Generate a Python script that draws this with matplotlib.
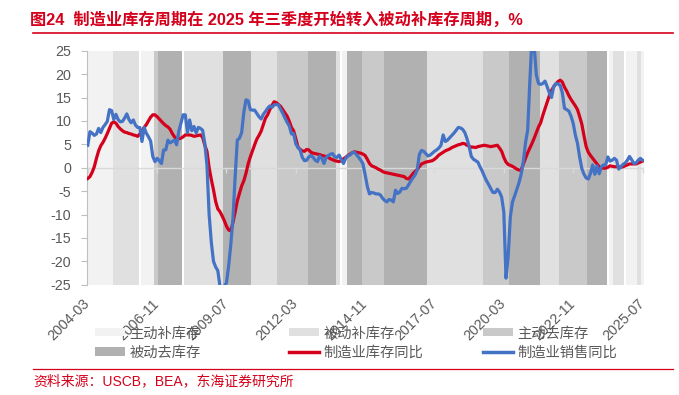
import numpy as np
import pandas as pd
import matplotlib
matplotlib.use("Agg")
import matplotlib.pyplot as plt
from matplotlib.patches import Patch
from matplotlib.lines import Line2D

plt.rcParams['font.family'] = ['Liberation Sans', 'Noto Sans CJK SC', 'DejaVu Sans']
plt.rcParams['axes.unicode_minus'] = False

# ---------------- data ----------------
start_month = '2004-03'
n_months = 257

inventory_yoy = [
    -2.3, -1.9, -1.0, 0.2, 2.0, 3.6, 4.7, 5.4, 6.3, 7.3,
    8.4, 9.5, 9.8, 9.5, 8.8, 8.3, 7.9, 7.6, 7.5, 7.3,
    7.2, 7.0, 6.9, 6.7, 7.2, 7.9, 8.6, 9.2, 10.0, 10.8,
    11.3, 11.3, 10.9, 10.4, 9.9, 9.4, 9.0, 8.7, 8.2, 7.3,
    6.6, 6.2, 6.2, 6.3, 6.6, 7.0, 7.0, 7.0, 6.9, 6.7,
    6.8, 6.9, 7.0, 6.5, 4.8, 3.5, 0.0, -2.5, -4.7, -7.2,
    -8.8, -9.4, -10.3, -11.3, -12.5, -13.3, -13.5, -11.7, -9.5, -7.1,
    -5.5, -3.9, -2.8, -1.2, 0.8, 2.3, 3.6, 4.9, 6.1, 6.9,
    7.8, 9.2, 10.6, 11.3, 12.4, 13.3, 14.1, 13.9, 13.5, 13.1,
    12.4, 11.7, 11.0, 9.9, 8.6, 7.9, 6.2, 4.4, 3.9, 3.6,
    3.5, 3.9, 3.8, 3.3, 3.1, 3.0, 2.9, 2.8, 2.6, 2.5,
    2.4, 2.2, 1.9, 1.7, 1.5, 1.4, 1.3, 1.5, 1.9, 2.2,
    2.6, 2.9, 3.2, 3.4, 3.3, 3.2, 3.1, 2.9, 2.6, 1.8,
    0.9, 0.4, 0.2, 0.0, -0.3, -0.5, -0.8, -1.0, -1.1, -1.2,
    -1.3, -1.4, -1.5, -1.6, -1.7, -1.8, -1.9, -2.3, -2.4, -1.9,
    -1.3, -0.8, -0.4, 0.2, 0.8, 1.0, 1.2, 1.3, 1.4, 1.5,
    1.8, 2.2, 2.7, 3.0, 3.3, 3.6, 3.8, 4.0, 4.3, 4.5,
    4.7, 4.9, 5.0, 5.2, 5.1, 4.8, 4.6, 4.4, 4.4, 4.3,
    4.5, 4.6, 4.7, 4.8, 4.7, 4.6, 4.5, 4.6, 4.7, 4.8,
    4.2, 3.5, 2.2, 1.2, 0.7, 0.5, 0.3, 0.0, -0.3, -0.5,
    -0.5, 0.8, 2.0, 3.2, 4.2, 5.2, 6.3, 7.5, 8.7, 9.6,
    11.2, 12.6, 14.0, 15.4, 16.5, 17.3, 17.9, 18.4, 18.7, 18.3,
    17.2, 16.4, 15.4, 14.6, 13.9, 13.2, 12.4, 10.9, 9.3, 6.8,
    4.5, 3.3, 2.6, 2.0, 1.4, 0.8, 0.2, -0.1, -0.1, -0.1,
    0.1, 0.4, 0.3, 0.2, 0.2, 0.2, 0.1, 0.2, 0.4, 0.6,
    0.8, 0.8, 0.8, 0.8, 1.0, 1.2, 1.4,
]

sales_yoy = [
    4.8, 7.7, 7.4, 6.9, 7.2, 8.4, 7.5, 8.6, 9.2, 9.9,
    12.4, 12.2, 10.3, 11.4, 10.3, 9.8, 9.9, 10.6, 11.5, 10.3,
    9.6, 10.2, 9.1, 8.6, 8.6, 5.6, 8.6, 7.4, 6.6, 5.7,
    2.4, 1.3, 2.0, 1.5, 0.9, 3.8, 3.8, 5.9, 5.3, 5.6,
    5.9, 4.9, 7.8, 9.5, 11.3, 11.3, 7.5, 10.2, 7.9, 8.8,
    7.4, 8.6, 8.4, 8.0, 5.2, 0.5, -10.0, -15.9, -20.0, -21.2,
    -22.0, -25.3, -25.6, -25.3, -24.6, -21.0, -16.4, -10.8, -2.0, 5.9,
    6.3, 7.5, 11.8, 14.5, 14.3, 12.4, 12.3, 12.3, 11.6, 10.9,
    10.4, 11.4, 12.0, 12.7, 13.2, 12.9, 13.4, 13.5, 13.4, 12.5,
    11.6, 10.6, 9.7, 8.9, 7.2, 7.3, 5.1, 4.3, 3.8, 2.2,
    1.5, 1.6, 2.3, 2.6, 2.2, 1.6, 1.3, 2.5, 2.0, 0.9,
    2.2, 2.6, 2.9, 3.0, 2.3, 2.2, 2.7, 1.7, 0.9, 2.0,
    2.5, 2.7, 3.2, 3.3, 2.8, 2.2, 1.6, 0.8, -1.5, -4.0,
    -5.6, -5.3, -5.4, -5.6, -5.6, -5.8, -6.5, -7.0, -7.3, -6.8,
    -6.9, -7.3, -4.8, -5.5, -5.2, -4.4, -4.5, -4.4, -3.7, -2.9,
    -2.2, -1.6, -0.5, 2.8, 3.7, 3.5, 3.0, 2.5, 2.7, 3.1,
    3.5, 3.8, 4.2, 4.8, 7.0, 5.6, 5.9, 6.4, 6.9, 7.4,
    8.0, 8.6, 8.5, 8.2, 7.5, 6.2, 4.5, 2.4, 1.8, 1.5,
    1.2, 0.2, -0.7, -1.8, -2.8, -3.6, -4.5, -5.3, -5.3, -4.6,
    -5.2, -6.3, -9.5, -23.6, -19.0, -10.5, -7.3, -6.0, -4.6, -3.2,
    -1.4, 1.3, 5.3, 8.0, 18.5, 27.5, 26.0, 19.8, 18.0, 17.8,
    18.0, 18.5, 17.3, 16.0, 15.0, 17.3, 18.0, 17.9, 17.6, 16.0,
    12.7, 12.4, 12.1, 11.0, 9.5, 7.0, 5.2, 2.2, -0.2, -1.4,
    -2.2, -2.4, -1.2, 0.6, -1.4, 0.4, -1.3, 0.2, 0.6, 0.6,
    2.3, 1.4, 1.6, 2.0, 1.6, -0.3, 0.2, 0.7, 1.0, 1.6,
    2.4, 1.7, 0.9, 1.0, 1.6, 2.0, 1.6,
]

# inventory-cycle phases (run-length: phase, number of months); None = unclassified
band_states = ['主动补库存', '被动补库存', None, '主动补库存', '主动去库存', '被动去库存', None,
               '被动补库存', '被动去库存', '被动补库存', '主动去库存', '被动去库存', '被动补库存',
               None, '主动补库存', '被动去库存', '主动去库存', '被动去库存', '被动补库存',
               '主动去库存', '被动去库存', '被动补库存', '主动去库存', '被动去库存', None,
               '主动补库存', '被动补库存', None, '主动补库存', '被动补库存', '主动补库存']
band_lengths = [12, 12, 1, 6, 2, 11, 1,
                18, 13, 12, 14, 13, 2,
                1, 2, 7, 10, 20, 26,
                12, 14, 9, 13, 9, 1,
                2, 5, 1, 5, 2, 1]

tick_labels = ['2004-03', '2006-11', '2009-07', '2012-03', '2014-11',
               '2017-07', '2020-03', '2022-11', '2025-07']

phase_colors = {'主动补库存': '#F2F2F2', '被动补库存': '#E0E0E0',
                '主动去库存': '#C9C9C9', '被动去库存': '#B1B1B1'}

RED = '#D5001C'
BLUE = '#4472C4'
TXT = '#595959'

# ---------------- figure ----------------
months = pd.period_range(start_month, periods=n_months, freq='M').strftime('%Y-%m').tolist()
x = np.arange(n_months)

fig = plt.figure(figsize=(6.79, 3.95), dpi=100)
L, R, T, B = 86.7, 643.6, 50.7, 284.7
W, H = 679, 395
ax = fig.add_axes([L / W, 1 - B / H, (R - L) / W, (B - T) / H])

# phase bands
month_state = []
for st, ln in zip(band_states, band_lengths):
    month_state += [st] * ln
bx = [i for i, s in enumerate(month_state) if s is not None]
bc = [phase_colors[month_state[i]] for i in bx]
ax.bar(bx, [50] * len(bx), bottom=-25, width=1.0, color=bc, linewidth=0, zorder=0,
       antialiased=False)

ax.axhline(0, color='#D9D9D9', lw=1.0, zorder=2)
tick_pos = [months.index(t) for t in tick_labels]
ax.plot(tick_pos, [0] * len(tick_pos), linestyle='none', marker=3, ms=3.5, mew=1.0,
        color='#D9D9D9', zorder=2)

ax.plot(x, inventory_yoy, color=RED, lw=2.3, zorder=3, solid_joinstyle='round')
ax.plot(x, sales_yoy, color=BLUE, lw=2.3, zorder=4, solid_joinstyle='round')

ax.set_xlim(-0.5, n_months - 0.5)
ax.set_ylim(-25, 25)
ax.set_yticks(np.arange(-25, 26, 5))
ax.set_yticklabels([str(v) for v in range(-25, 26, 5)])
ax.set_xticks(tick_pos)
ax.set_xticklabels(tick_labels, rotation=45, ha='right', va='center', rotation_mode='anchor')

for s in ['top', 'right', 'bottom']:
    ax.spines[s].set_visible(False)
ax.spines['left'].set_color('#BFBFBF')
ax.spines['left'].set_linewidth(0.8)
ax.tick_params(axis='y', length=4, width=0.8, color='#BFBFBF', pad=7, labelsize=10.3,
               labelcolor=TXT)
ax.tick_params(axis='x', length=0, pad=12, labelsize=10.3, labelcolor=TXT)
ax.set_facecolor('white')

# legends (three columns)
leg_kw = dict(frameon=False, fontsize=10.3, handlelength=2.1, handletextpad=0.3,
              labelspacing=0.36, borderpad=0, borderaxespad=0, handleheight=0.5,
              loc='upper left', labelcolor=TXT)
cols = [
    ([Patch(facecolor=phase_colors['主动补库存']), Patch(facecolor=phase_colors['被动去库存'])],
     ['主动补库存', '被动去库存'], 95),
    ([Patch(facecolor=phase_colors['被动补库存']), Line2D([], [], color=RED, lw=2.5)],
     ['被动补库存', '制造业库存同比'], 289),
    ([Patch(facecolor=phase_colors['主动去库存']), Line2D([], [], color=BLUE, lw=2.5)],
     ['主动去库存', '制造业销售同比'], 483),
]
for hs, ls, xl in cols:
    lg = fig.legend(hs, ls, bbox_to_anchor=(xl / W, 1 - 326.5 / H), **leg_kw)
    lg.set_zorder(5)

# title, rules and source
fig.text(30 / W, 1 - 20 / H, '图24  制造业库存周期在 2025 年三季度开始转入被动补库存周期，%',
         fontsize=11.7, fontweight='bold', color=RED, ha='left', va='center')
fig.add_artist(Line2D([33 / W, 673 / W], [1 - 33 / H] * 2, color=RED, lw=1.2))
fig.add_artist(Line2D([33 / W, 673 / W], [1 - 369.3 / H] * 2, color=RED, lw=0.9))
fig.text(33 / W, 1 - 381 / H, '资料来源：USCB，BEA，东海证券研究所', fontsize=10,
         color=RED, ha='left', va='center')

fig.savefig('out.png', dpi=100, facecolor='white')
